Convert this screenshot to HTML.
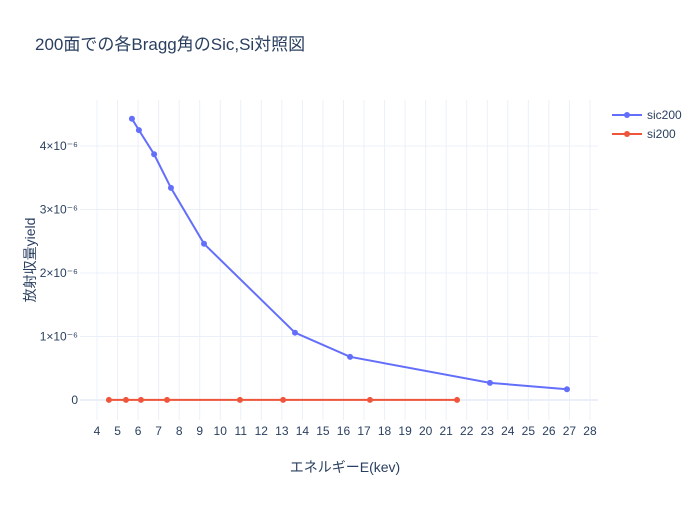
<!DOCTYPE html>
<html><head><meta charset="utf-8"><style>
body{margin:0;background:#fff;font-family:"Liberation Sans","Noto Sans CJK JP",sans-serif}
text{font-family:"Liberation Sans","Noto Sans CJK JP",sans-serif;fill:#2a3f5f}
</style></head><body>
<svg id="chart" width="700" height="500" xmlns="http://www.w3.org/2000/svg">
<rect width="700" height="500" fill="#fff"/>
<text x="35" y="50" font-size="17">200面での各Bragg角のSic,Si対照図</text>
<g id="grid"></g><g id="axes"></g><g id="series"></g>
<text x="345" y="472" font-size="14" text-anchor="middle">エネルギーE(kev)</text>
<text transform="translate(35,260) rotate(-90)" font-size="14" text-anchor="middle">放射収量yield</text>
<g>
<g><line x1="612" y1="115" x2="642" y2="115" stroke="#636efa" stroke-width="2"/><circle cx="627" cy="115" r="3" fill="#636efa"/><text x="647" y="119" font-size="12">sic200</text></g>
<g><line x1="612" y1="134" x2="642" y2="134" stroke="#ef553b" stroke-width="2"/><circle cx="627" cy="134" r="3" fill="#ef553b"/><text x="647" y="138" font-size="12">si200</text></g>
</g>
</svg>
<script>
const sicX=[5.70,6.04,6.78,7.60,9.21,13.64,16.32,23.13,26.88];
const sicY=[4.43e-6,4.25e-6,3.87e-6,3.34e-6,2.46e-6,1.06e-6,0.68e-6,0.27e-6,0.17e-6];
const siX=[4.58,5.41,6.14,7.41,10.96,13.06,17.29,21.53];
const siY=[1e-9,1e-9,1e-9,1e-9,1e-9,1e-9,1e-9,1e-9];
const xTicks=[4,5,6,7,8,9,10,11,12,13,14,15,16,17,18,19,20,21,22,23,24,25,26,27,28];
const yTicks=[0,1e-6,2e-6,3e-6,4e-6];
const yTickLabels=["0","1×10⁻⁶","2×10⁻⁶","3×10⁻⁶","4×10⁻⁶"];
const NS="http://www.w3.org/2000/svg";
const X=v=>97+(v-4)*20.54, Y=v=>400-v*63.5e6;
const L=80,R=598,T=100,B=420;
function mk(t,a,p){const e=document.createElementNS(NS,t);for(const k in a)e.setAttribute(k,a[k]);p.appendChild(e);return e;}
const g=document.getElementById('grid'),ax=document.getElementById('axes'),s=document.getElementById('series');
xTicks.forEach(t=>{const l=mk('line',{x1:X(t),x2:X(t),y1:T,y2:B,stroke:'#ebf0f8'},g);

const tx=mk('text',{x:X(t),y:435,'font-size':12,'text-anchor':'middle'},ax);tx.textContent=t;
});
yTicks.forEach((t,i)=>{const l=mk('line',{x1:L,x2:R,y1:Y(t),y2:Y(t),stroke:'#ebf0f8','stroke-width':i==0?2:1},g);

const tx=mk('text',{x:78,y:Y(t)+4,'font-size':12,'text-anchor':'end'},ax);tx.textContent=yTickLabels[i];
});
function series(xs,ys,c,n){
const pl=mk('polyline',{points:xs.map((x,i)=>X(x)+','+Y(ys[i])).join(' '),fill:'none',stroke:c,'stroke-width':2},s);

xs.forEach((x,i)=>{const p=mk('circle',{cx:X(x),cy:Y(ys[i]),r:3,fill:c},s);
});}
series(sicX,sicY,'#636efa','sic200');
series(siX,siY,'#ef553b','si200');
</script>
</body></html>
